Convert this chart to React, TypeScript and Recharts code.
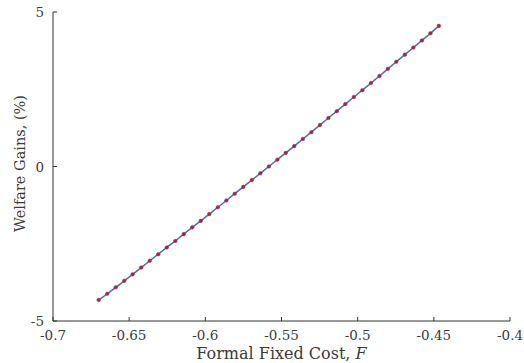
import { LineChart, Line, XAxis, YAxis, Label } from 'recharts';

// formal fixed cost values on the grid
const fixedCost: number[] = [
  -0.67, -0.6644, -0.6588, -0.6532, -0.6477, -0.6421, -0.6365, -0.6309, -0.6253, -0.6197,
  -0.6142, -0.6086, -0.603, -0.5974, -0.5918, -0.5862, -0.5807, -0.5751, -0.5695, -0.5639,
  -0.5583, -0.5527, -0.5472, -0.5416, -0.536, -0.5304, -0.5248, -0.5192, -0.5137, -0.5081,
  -0.5025, -0.4969, -0.4913, -0.4857, -0.4802, -0.4746, -0.469, -0.4634, -0.4578, -0.4522,
  -0.4467,
];

// welfare gains in percent
const welfareGains: number[] = [
  -4.32, -4.12, -3.91, -3.7, -3.49, -3.27, -3.05, -2.84, -2.62, -2.41,
  -2.19, -1.97, -1.76, -1.54, -1.32, -1.1, -0.88, -0.66, -0.44, -0.22,
  0.0, 0.22, 0.44, 0.66, 0.89, 1.11, 1.34, 1.57, 1.79, 2.02,
  2.25, 2.47, 2.7, 2.93, 3.16, 3.39, 3.62, 3.85, 4.08, 4.31,
  4.55,
];

const xTicks: number[] = [-0.7, -0.65, -0.6, -0.55, -0.5, -0.45, -0.4];
const yTicks: number[] = [-5, 0, 5];

const data = fixedCost.map((f, i) => ({ f, w: welfareGains[i] }));

const textStyle = { fontFamily: "'DejaVu Serif', serif" };
const textColor = '#3a3a3a';

function XTick(props: any) {
  const { x, y, payload } = props;
  return (
    <g>
      <line x1={x} y1={y} x2={x} y2={y - 4} stroke="#333" strokeWidth={1} />
      <text x={x} y={y + 19} textAnchor="middle" style={textStyle} fontSize={13.5} fill={textColor}>
        {String(payload.value)}
      </text>
    </g>
  );
}

function YTick(props: any) {
  const { x, y, payload } = props;
  return (
    <g>
      <line x1={x} y1={y} x2={x + 4} y2={y} stroke="#333" strokeWidth={1} />
      <text x={x - 9} y={y + 5} textAnchor="end" style={textStyle} fontSize={13.5} fill={textColor}>
        {String(payload.value)}
      </text>
    </g>
  );
}

export default function App() {
  return (
    <div style={{ position: 'absolute', left: 0, top: 0, background: '#fff' }}>
      <LineChart width={524} height={363} data={data} margin={{ top: 12, right: 14, left: 0, bottom: 0 }}>
        <XAxis
          dataKey="f"
          type="number"
          domain={[-0.7, -0.4]}
          ticks={xTicks}
          tickSize={0}
          tickMargin={0}
          tick={<XTick />}
          height={42}
          axisLine={{ stroke: '#333' }}
          allowDataOverflow
        >
          <Label
            content={(p: any) => {
              const vb = p.viewBox;
              return (
                <text x={vb.x + vb.width / 2} y={vb.y + 38} textAnchor="middle" style={textStyle} fontSize={16} fill={textColor}>
                  Formal Fixed Cost, <tspan fontStyle="italic">F</tspan>
                </text>
              );
            }}
          />
        </XAxis>
        <YAxis
          type="number"
          domain={[-5, 5]}
          ticks={yTicks}
          tickSize={0}
          tickMargin={0}
          tick={<YTick />}
          width={53}
          axisLine={{ stroke: '#333' }}
        >
          <Label
            content={(p: any) => {
              const vb = p.viewBox;
              const cx = 20;
              const cy = vb.y + vb.height / 2 - 3;
              return (
                <text x={cx} y={cy} transform={`rotate(-90 ${cx} ${cy})`} textAnchor="middle" dominantBaseline="central" style={textStyle} fontSize={14.5} fill={textColor}>
                  Welfare Gains, (%)
                </text>
              );
            }}
          />
        </YAxis>
        <Line
          type="linear"
          dataKey="w"
          stroke="#5468b4"
          strokeWidth={1.5}
          dot={{ r: 1.8, fill: '#9b2c3c', stroke: '#9b2c3c', strokeWidth: 0.5 }}
          isAnimationActive={false}
        />
      </LineChart>
    </div>
  );
}
